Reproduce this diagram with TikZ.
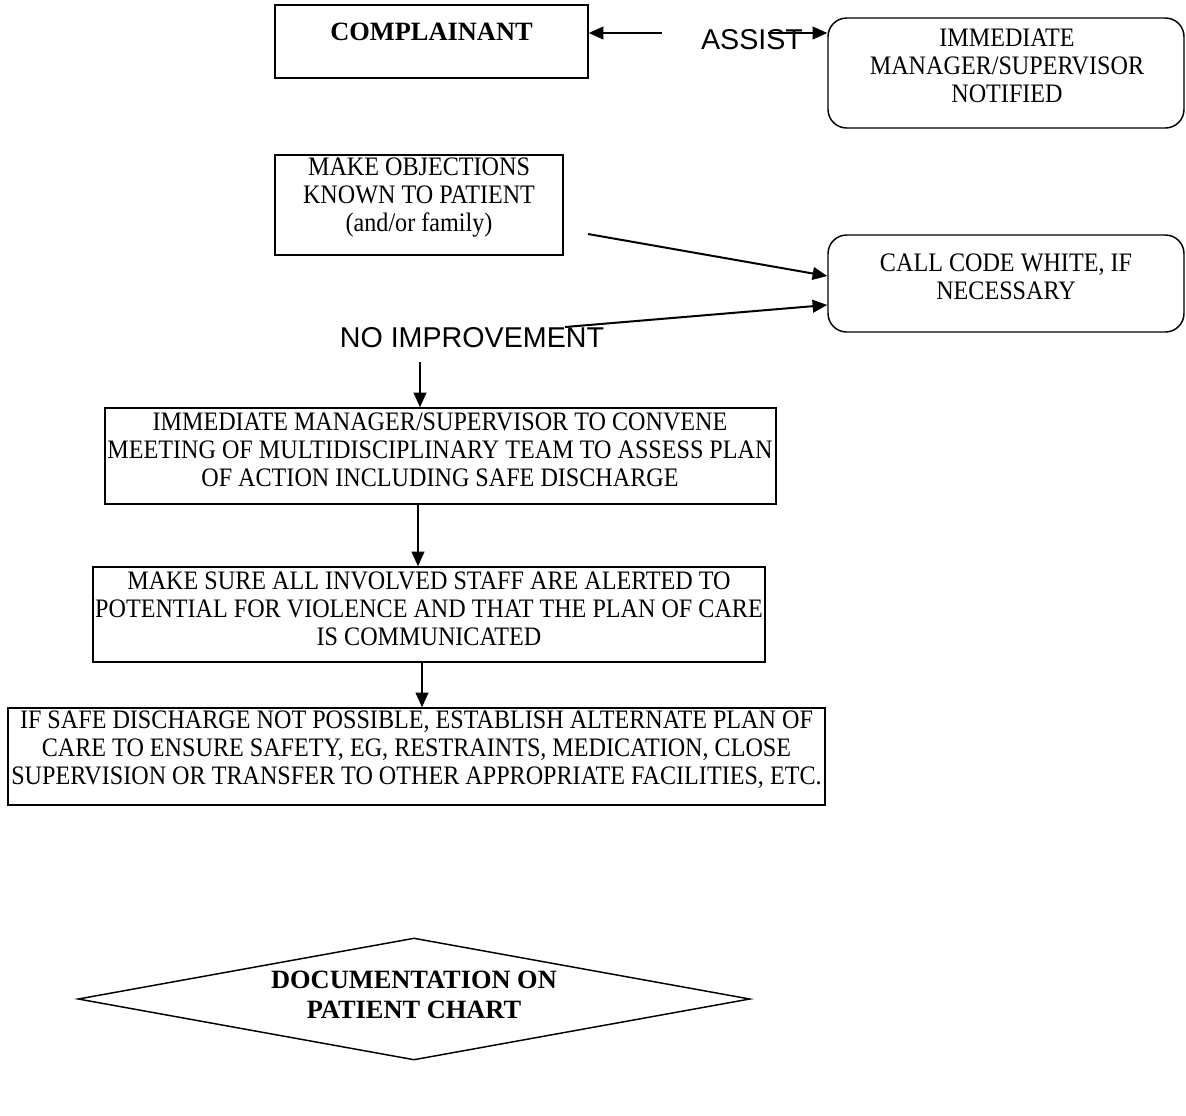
\documentclass[tikz,border=0pt]{standalone}
\usepackage{fontspec}
\setmainfont{Liberation Serif}[FakeStretch=0.905,BoldFeatures={FakeStretch=1.0}]
\newfontfamily\assistfont{Liberation Sans}
\usetikzlibrary{arrows.meta,shapes.geometric}
\begin{document}
\begin{tikzpicture}[x=0.75pt,y=-0.75pt,
  box/.style={draw,line width=1.1pt,inner sep=0pt},
  rbox/.style={box,rounded corners=14pt},
  txt/.style={align=center,inner sep=0pt,font=\fontsize{20}{21}\selectfont},
  btxt/.style={txt,font=\fontsize{19.8}{22}\selectfont\bfseries},
  stxt/.style={inner sep=0pt,font=\assistfont\fontsize{21.5}{24}\selectfont},
  arr/.style={line width=1.5pt,-{Triangle[length=11pt,width=9.5pt]}}]
\useasboundingbox (0,0) rectangle (1186,1115);

% boxes
\node[box,minimum width=234.75pt,minimum height=54.75pt] (comp) at (431.5,41.5) {};
\node[btxt] (compt) at (431.5,32) {COMPLAINANT};

\node[rbox,minimum width=267pt,minimum height=82.5pt] (imm) at (1006,73) {};
\node[txt] (immt) at (1007,66) {IMMEDIATE\\MANAGER/SUPERVISOR\\NOTIFIED};

\node[box,minimum width=216pt,minimum height=75pt] (obj) at (419,205) {};
\node[txt] (objt) at (419,198) {MAKE OBJECTIONS\\KNOWN TO PATIENT\\(and/or family)};

\node[rbox,minimum width=267pt,minimum height=72.75pt] (code) at (1006,283.5) {};
\node[txt] (codet) at (1006,277) {CALL CODE WHITE, IF\\NECESSARY};

\node[box,minimum width=503.25pt,minimum height=72pt] (conv) at (440.5,456) {};
\node[txt] (convt) at (440,450) {IMMEDIATE MANAGER/SUPERVISOR TO CONVENE\\MEETING OF MULTIDISCIPLINARY TEAM TO ASSESS PLAN\\OF ACTION INCLUDING SAFE DISCHARGE};

\node[box,minimum width=504pt,minimum height=71.25pt] (sure) at (429,614.5) {};
\node[txt] (suret) at (429,609) {MAKE SURE ALL INVOLVED STAFF ARE ALERTED TO\\POTENTIAL FOR VIOLENCE AND THAT THE PLAN OF CARE\\IS COMMUNICATED};

\node[box,minimum width=612.75pt,minimum height=72.75pt] (safe) at (416.5,756.5) {};
\node[txt] (safet) at (416.5,750) {IF SAFE DISCHARGE NOT POSSIBLE, ESTABLISH ALTERNATE PLAN OF\\CARE TO ENSURE SAFETY, EG, RESTRAINTS, MEDICATION, CLOSE\\SUPERVISION OR TRANSFER TO OTHER APPROPRIATE FACILITIES, ETC.};

\node[draw,line width=1.1pt,diamond,inner sep=0pt,minimum width=504pt,minimum height=91.5pt] (doc) at (414,999) {};
\node[btxt] (doct) at (414,995) {DOCUMENTATION ON\\PATIENT CHART};

% free labels
\node[stxt] (assist) at (752,40) {ASSIST};
\node[stxt] (noimp) at (472,338) {NO IMPROVEMENT};

% connectors
\coordinate (a1) at (662,33);
\draw[arr] (a1) -- (a1 -| comp.east);
\coordinate (a2) at (768,33);
\draw[arr] (a2) -- (a2 -| imm.west);

\coordinate (o1) at (588,234);
\draw[arr] (o1) -- ([yshift=5.6pt]code.west);
\coordinate (n0) at (565,327);
\draw[arr] (n0) -- ([yshift=-16.1pt]code.west);

\coordinate (n1) at (420,362);
\draw[arr] (n1) -- (n1 |- conv.north);
\draw[arr] ([xshift=-16.9pt]conv.south) -- ([xshift=-16.9pt]conv.south |- sure.north);
\draw[arr] ([xshift=-5.25pt]sure.south) -- ([xshift=-5.25pt]sure.south |- safe.north);
\end{tikzpicture}
\end{document}
